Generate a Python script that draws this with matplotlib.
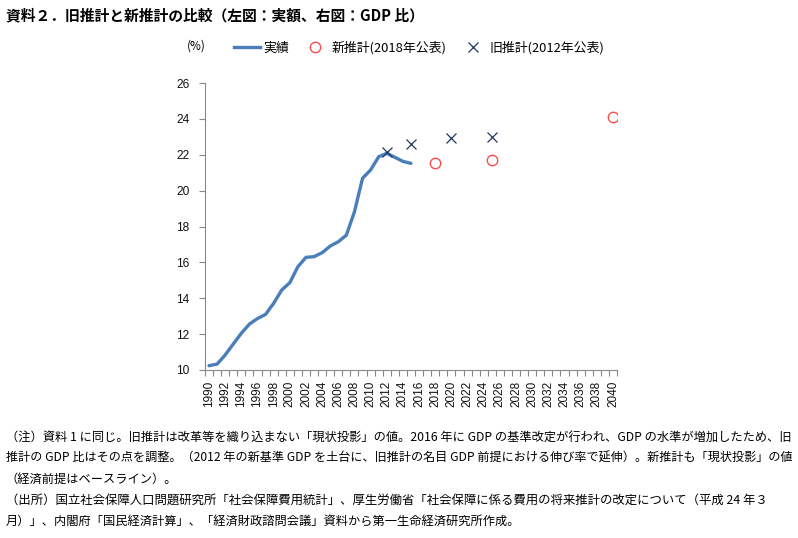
import matplotlib
matplotlib.use("Agg")
import matplotlib.pyplot as plt
import numpy as np
from matplotlib.lines import Line2D

plt.rcParams['font.family'] = ['Noto Sans CJK JP', 'DejaVu Sans']

# ---- data ----
actual_years = list(range(1990, 2016))
actual_vals = [10.24, 10.33, 10.84, 11.45, 12.05, 12.56, 12.87, 13.10, 13.72, 14.46,
               14.87, 15.76, 16.28, 16.32, 16.54, 16.91, 17.15, 17.52, 18.82, 20.69,
               21.15, 21.89, 22.08, 21.86, 21.63, 21.52]
new_years = [2018, 2025, 2040]
new_vals = [21.52, 21.70, 24.12]
old_years = [2012, 2015, 2020, 2025]
old_vals = [22.17, 22.60, 22.92, 23.00]
cat_years = list(range(1990, 2041))
y_ticks = [10, 12, 14, 16, 18, 20, 22, 24, 26]

title = "資料２．旧推計と新推計の比較（左図：実額、右図：GDP 比）"
legend_labels = ["実績", "新推計(2018年公表)", "旧推計(2012年公表)"]
notes = [
    "（注）資料 1 に同じ。旧推計は改革等を織り込まない「現状投影」の値。2016 年に GDP の基準改定が行われ、GDP の水準が増加したため、旧",
    "推計の GDP 比はその点を調整。（2012 年の新基準 GDP を土台に、旧推計の名目 GDP 前提における伸び率で延伸）。新推計も「現状投影」の値",
    "（経済前提はベースライン）。",
    "（出所）国立社会保障人口問題研究所「社会保障費用統計」、厚生労働省「社会保障に係る費用の将来推計の改定について（平成 24 年３",
    "月）」、内閣府「国民経済計算」、「経済財政諮問会議」資料から第一生命経済研究所作成。",
]

W, H = 798, 538
fig = plt.figure(figsize=(W / 100, H / 100), dpi=100)
ax = fig.add_axes([205 / W, 1 - 370 / H, (617 - 205) / W, (370 - 83) / H])

blue = '#4a7ebb'
red = '#ff4d4d'
navy = '#1f3864'

ax.plot(actual_years, actual_vals, color=blue, lw=2.4, solid_capstyle='round', zorder=2)
ax.plot(new_years, new_vals, ls='none', marker='o', ms=7.5, mfc='none', mec=red, mew=1.0, zorder=3)
ax.plot(old_years, old_vals, ls='none', marker='x', ms=7, mec=navy, mew=0.9, zorder=3)

ax.set_xlim(cat_years[0] - 0.5, cat_years[-1] + 0.5)
ax.set_ylim(y_ticks[0], y_ticks[-1])
ax.set_yticks(y_ticks)
ax.set_yticklabels([str(v) for v in y_ticks], fontsize=8.6, family='Liberation Sans', color='#111111')
ax.set_xticks(cat_years[::2])
ax.set_xticklabels([str(v) for v in cat_years[::2]], rotation=90, fontsize=8.5,
                   family='Liberation Sans', va='top', color='#111111')
ax.set_xticks(np.arange(cat_years[0] - 0.5, cat_years[-1] + 1, 1), minor=True)
ax.tick_params(axis='x', which='major', length=0, pad=8)
ax.tick_params(axis='x', which='minor', length=4, color='#888888', width=0.8, direction='out')
ax.tick_params(axis='y', which='major', length=4, color='#888888', width=0.8, pad=7, direction='out')
for s in ['top', 'right']:
    ax.spines[s].set_visible(False)
for s in ['left', 'bottom']:
    ax.spines[s].set_color('#888888')
    ax.spines[s].set_linewidth(0.8)

# legend
handles = [
    Line2D([], [], color=blue, lw=2.4),
    Line2D([], [], ls='none', marker='o', ms=7.5, mfc='none', mec=red, mew=1.0),
    Line2D([], [], ls='none', marker='x', ms=7, mec=navy, mew=0.9),
]
fig.legend(handles, legend_labels, loc='center', bbox_to_anchor=(419 / W, 1 - 48 / H),
           ncol=3, frameon=False, fontsize=9.3, handlelength=2.0, handletextpad=0.3,
           columnspacing=1.0)
fig.text(196 / W, 1 - 46 / H, "(%)", ha='center', va='center', fontsize=8.5)

renderer = fig.canvas.get_renderer()


def fit_text(x, y, s, width, size, **kw):
    t = fig.text(x / W, 1 - y / H, s, ha='left', va='center', fontsize=size, **kw)
    if width:
        w = t.get_window_extent(renderer).width
        t.set_fontsize(size * width / w)
    return t


fit_text(6, 15, title, 420, 10.5, weight='bold')
note_y = [437, 458, 479, 500, 521]
note_w = [784, 784, None, 762, None]
note_texts = []
for s, yy, ww in zip(notes, note_y, note_w):
    note_texts.append(fit_text(6, yy, s, ww, 9.0))
base = note_texts[0].get_fontsize()
for t, ww in zip(note_texts, note_w):
    if ww is None:
        t.set_fontsize(base)

fig.savefig("out.png", dpi=100)
